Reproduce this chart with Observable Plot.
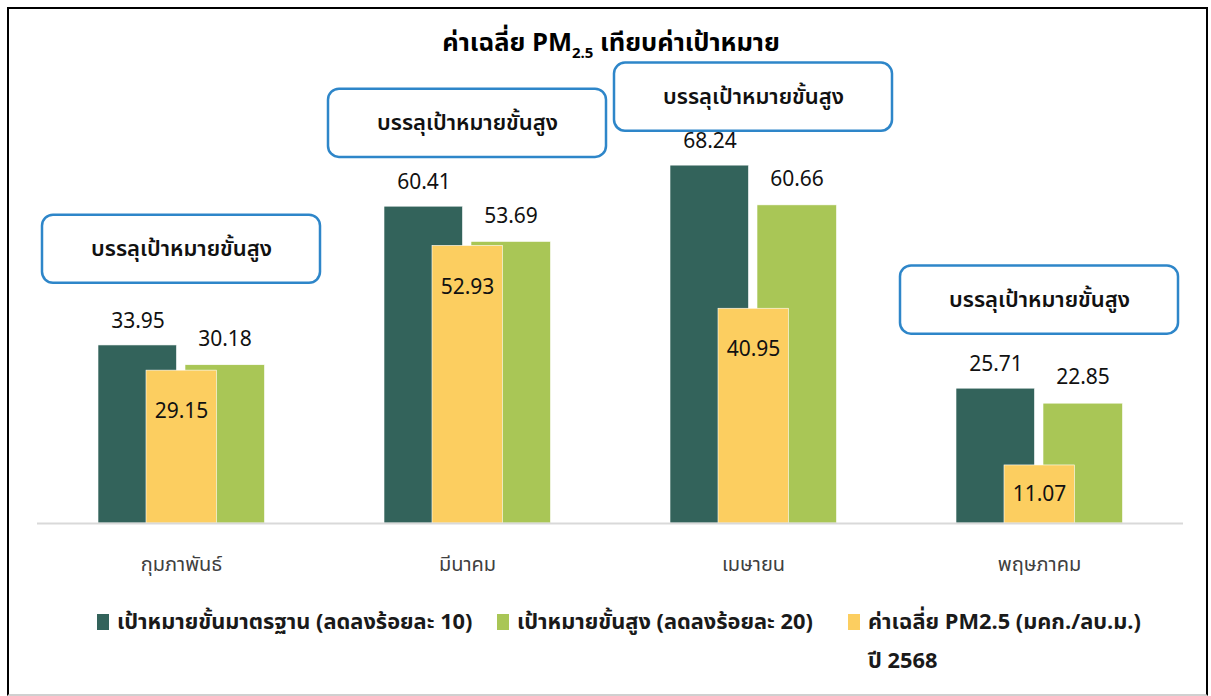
<!DOCTYPE html>
<html>
<head>
<meta charset="utf-8">
<script src="https://cdn.jsdelivr.net/npm/d3@7"></script>
<script src="https://cdn.jsdelivr.net/npm/@observablehq/plot@0.6"></script>
<style>
  html, body { margin: 0; padding: 0; background: #fff; }
  body { width: 1211px; height: 696px; position: relative; overflow: hidden;
         font-family: Tahoma, "Leelawadee UI", "Noto Sans Thai", "Noto Sans", "DejaVu Sans", sans-serif; }
  #frame { position: absolute; left: 7px; top: 7px; width: 1201px; height: 689px; box-sizing: border-box;
           border: 2px solid #000; border-bottom: 2px solid #d0d0d0; }
  #title { position: absolute; left: 0; width: 1222px; top: 28px; text-align: center;
           font-size: 25.5px; font-weight: bold; color: #000; line-height: 30px; }
  #title sub { font-size: 15px; vertical-align: -7px; line-height: 0; }
  #chart { position: absolute; left: 0; top: 0; }
  #legend { position: absolute; top: 606px; left: 97px; font-size: 21.8px; font-weight: bold; color: #1a1a1a; }
  .item { position: absolute; white-space: nowrap; line-height: 39px; }
  .sw { position: absolute; left: 0; top: 8px; width: 12px; height: 16px; }
  .lab { position: absolute; left: 20px; top: -3px; }
</style>
</head>
<body>
<div id="frame"></div>
<div id="chart"></div>
<div id="title"></div>
<div id="legend"></div>
<script>
const months = ["กุมภาพันธ์", "มีนาคม", "เมษายน", "พฤษภาคม"];
const standardTarget = [33.95, 60.41, 68.24, 25.71];   // เป้าหมายขั้นมาตรฐาน
const highTarget = [30.18, 53.69, 60.66, 22.85];       // เป้าหมายขั้นสูง
const pmAverage = [29.15, 52.93, 40.95, 11.07];        // ค่าเฉลี่ย PM2.5
const seriesNames = ["เป้าหมายขั้นมาตรฐาน (ลดลงร้อยละ 10)", "เป้าหมายขั้นสูง (ลดลงร้อยละ 20)", "ค่าเฉลี่ย PM2.5 (มคก./ลบ.ม.)", "ปี 2568"];
const seriesColors = ["#33635B", "#A9C656", "#FCCE60"];
const calloutText = "บรรลุเป้าหมายขั้นสูง";
const calloutLevel = [52.3, 76.3, 81.3, 42.6];
const titleMain = "ค่าเฉลี่ย PM";
const titleSub = "2.5";
const titleRest = " เทียบค่าเป้าหมาย";

const std = months.map((m, i) => ({month: m, value: standardTarget[i]}));
const high = months.map((m, i) => ({month: m, value: highTarget[i]}));
const pm = months.map((m, i) => ({month: m, value: pmAverage[i]}));
const callouts = months.map((m, i) => ({month: m, level: calloutLevel[i], text: calloutText}));

const font = 'Tahoma, "Leelawadee UI", "Noto Sans Thai", "Noto Sans", "DejaVu Sans", sans-serif';

const chart = Plot.plot({
  width: 1211,
  height: 600,
  marginLeft: 37,
  marginRight: 28,
  marginTop: 51,
  marginBottom: 77,
  style: {fontFamily: font, background: "transparent", overflow: "visible"},
  x: {domain: months, padding: 0, label: null},
  y: {domain: [0, 90], axis: null},
  marks: [
    Plot.axisX({tickSize: 0, tickPadding: 33, fontSize: 20, fill: "#404040", label: null}),
    Plot.barY(std, {x: "month", y: "value", fill: seriesColors[0], insetLeft: 60, insetRight: 147.5, stroke: "#fff", strokeWidth: 0.6}),
    Plot.barY(high, {x: "month", y: "value", fill: seriesColors[1], insetLeft: 147, insetRight: 59.5, stroke: "#fff", strokeWidth: 0.6}),
    Plot.barY(pm, {x: "month", y: "value", fill: seriesColors[2], insetLeft: 108, insetRight: 107.5, stroke: "#fff", strokeWidth: 0.6}),
    Plot.ruleY([0], {stroke: "#d9d9d9", strokeWidth: 2}),
    Plot.text(std, {x: "month", y: "value", text: d => d.value.toFixed(2), dx: -43.5, dy: -24, fontSize: 21, fill: "#111"}),
    Plot.text(high, {x: "month", y: "value", text: d => d.value.toFixed(2), dx: 43.5, dy: -26, fontSize: 21, fill: "#111"}),
    Plot.text(pm, {x: "month", y: d => Math.max(d.value - 7.8, d.value / 2), text: d => d.value.toFixed(2), fontSize: 21, fill: "#111"}),
    Plot.rect(callouts, {x: "month", y1: d => d.level - 6.5, y2: d => d.level + 6.5, insetLeft: 4, insetRight: 4, rx: 11, fill: "#fff", stroke: "#2E86C9", strokeWidth: 2.5}),
    Plot.text(callouts, {x: "month", y: "level", text: "text", fontSize: 22, fontWeight: 600, fill: "#111"})
  ]
});
document.getElementById("chart").appendChild(chart);

const t = document.getElementById("title");
t.append(titleMain);
const sub = document.createElement("sub"); sub.textContent = titleSub; t.append(sub);
t.append(titleRest);

const legend = document.getElementById("legend");
const positions = [0, 400, 751];
[0, 1, 2].forEach(i => {
  const it = document.createElement("div");
  it.className = "item";
  it.style.left = positions[i] + "px";
  it.style.top = "0px";
  const sw = document.createElement("div"); sw.className = "sw"; sw.style.background = seriesColors[i];
  const lab = document.createElement("div"); lab.className = "lab";
  lab.textContent = seriesNames[i];
  if (i === 2) { lab.appendChild(document.createElement("br")); lab.append(seriesNames[3]); }
  it.append(sw, lab);
  legend.appendChild(it);
});
</script>
</body>
</html>
